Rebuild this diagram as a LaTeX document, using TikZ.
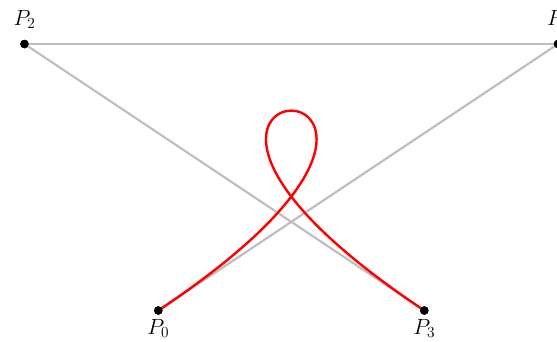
\RequirePackage{fix-cm}
\documentclass[tikz,border=0pt]{standalone}
\begin{document}
\begin{tikzpicture}[x=1pt,y=-1pt,
  ctrl/.style={draw=black!25,line width=2.2pt},
  curve/.style={draw=red,line width=2.4pt},
  pt/.style={circle,fill=black,inner sep=0pt,minimum size=8.5pt},
  lbl/.style={font=\fontsize{22}{24}\selectfont,inner sep=1pt}]
\useasboundingbox (0,0) rectangle (557,341);
\node[pt] (p0) at (158.3,310.5) {};
\node[pt] (p1) at (558,44) {};
\node[pt] (p2) at (24.5,44) {};
\node[pt] (p3) at (424.3,310.5) {};
\draw[ctrl] (p0.center) -- (p1.center);
\draw[ctrl] (p2.center) -- (p1.center);
\draw[ctrl] (p2.center) -- (p3.center);
\draw[curve] (p0.center) .. controls (p1.center) and (p2.center) .. (p3.center);
\node[pt] at (p0) {};
\node[pt] at (p1) {};
\node[pt] at (p2) {};
\node[pt] at (p3) {};
\node[lbl,anchor=base] (l0) at (158.3,334) {$P_0$};
\node[lbl,anchor=base] (l1) at (558,25.5) {$P_1$};
\node[lbl,anchor=base] (l2) at (24.5,25.5) {$P_2$};
\node[lbl,anchor=base] (l3) at (424.3,334) {$P_3$};
\end{tikzpicture}
\end{document}
